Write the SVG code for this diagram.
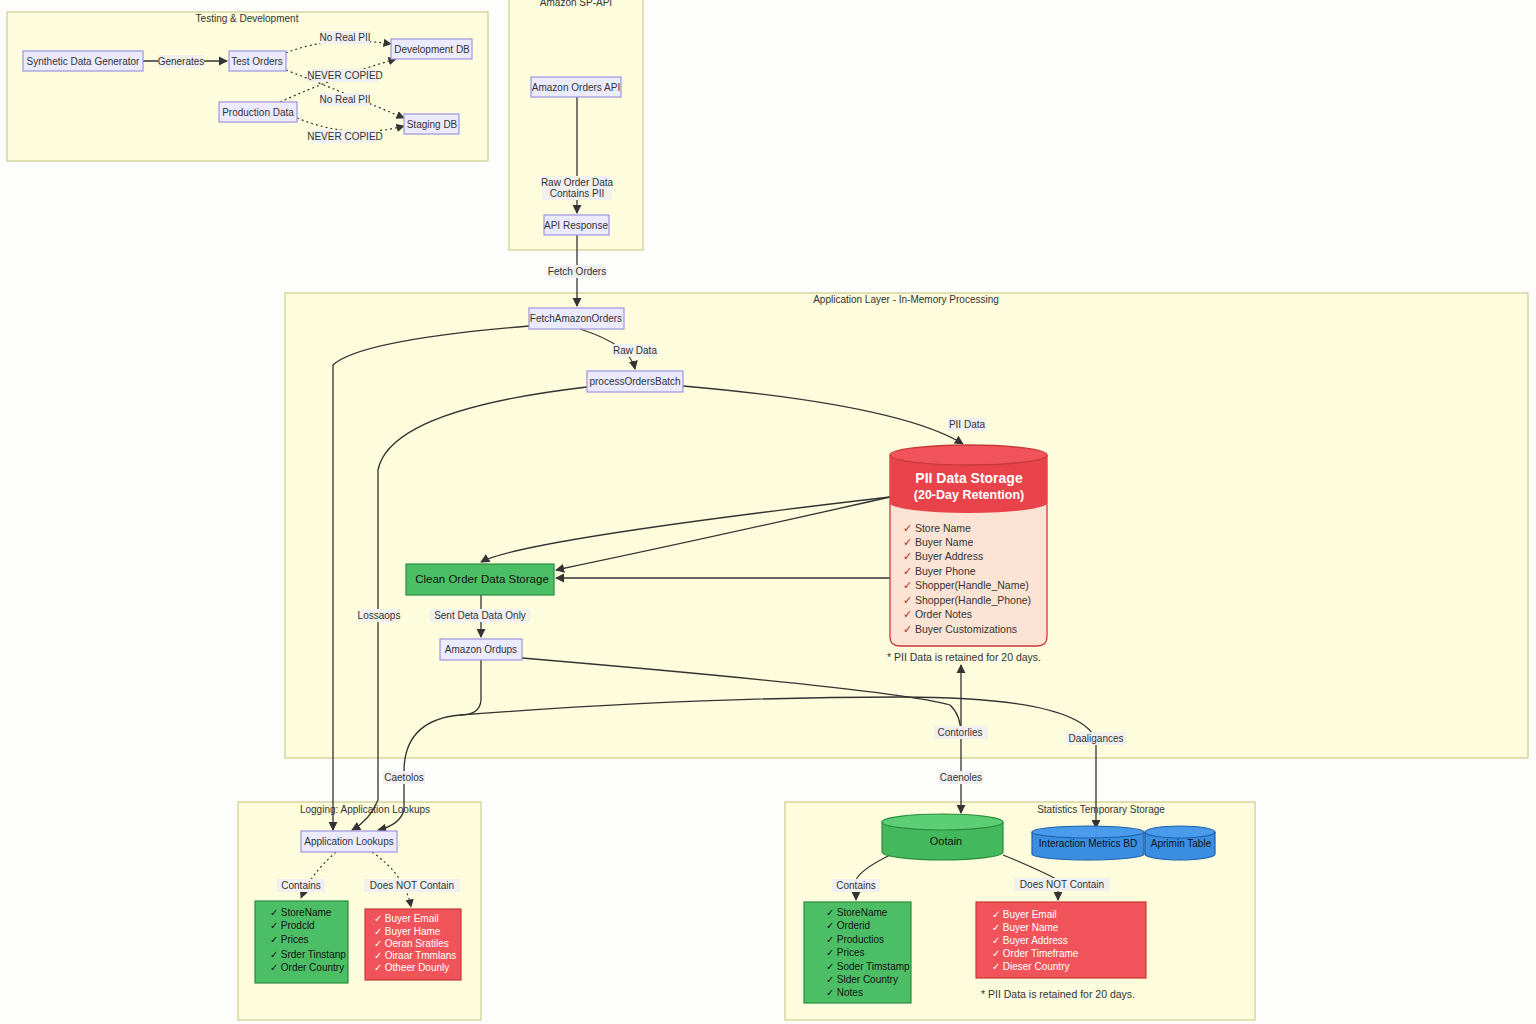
<svg xmlns="http://www.w3.org/2000/svg" width="1536" height="1024" viewBox="0 0 1536 1024" font-family="'Liberation Sans',Arial,sans-serif" font-size="10" fill="#333">
<defs>
<marker id="ar" viewBox="0 0 10 10" refX="9" refY="5" markerWidth="7" markerHeight="7" orient="auto-start-reverse"><path d="M0,0L10,5L0,10z" fill="#333"/></marker>
<style>
.cl{fill:#fdfcdc;stroke:#cfcb8e;stroke-width:1.2}
.nd{fill:#ecebfd;stroke:#9f94e0;stroke-width:1.2}
.e{fill:none;stroke:#333;stroke-width:1.3;marker-end:url(#ar)}
.d{fill:none;stroke:#333;stroke-width:1.2;stroke-dasharray:2,3;marker-end:url(#ar)}
.lb{fill:#f0f0ee}
.c{text-anchor:middle}
.w{fill:#fff}
.ck{fill:#b02a2a}
</style>
</defs>
<rect width="1536" height="1024" fill="#fdfdfc"/>
<g id="clusters">
<rect class="cl" x="7" y="12" width="481" height="149"/><text class="c" x="247" y="22">Testing &amp; Development</text>
<rect class="cl" x="509" y="-5" width="134" height="255"/><text class="c" x="576" y="6">Amazon SP-API</text>
<rect class="cl" x="285" y="293" width="1243" height="465"/><text class="c" x="906" y="303">Application Layer - In-Memory Processing</text>
<rect class="cl" x="238" y="802" width="243" height="218"/><text class="c" x="365" y="813">Logging: Application Lookups</text>
<rect class="cl" x="785" y="802" width="470" height="218"/><text class="c" x="1101" y="813">Statistics Temporary Storage</text>
</g>
<g id="connectors">
<path class="e" d="M143,61H227"/>
<path class="d" d="M286,53Q330,35 391,44"/>
<path class="d" d="M286,70Q350,95 404,118"/>
<path class="d" d="M280,102Q340,75 396,59"/>
<path class="d" d="M297,118Q350,140 404,126"/>
<path class="e" d="M577,97V213"/>
<path class="e" d="M577,235V306"/>
<path class="e" d="M580,329Q630,345 635,369"/>
<path class="e" d="M683,386Q900,405 963,444"/>
<path class="e" d="M529,326Q360,340 333,365V830"/>
<path class="e" d="M587,387Q390,410 378,470V800Q370,820 352,830"/>
<path class="e" d="M890,497Q520,540 481,562"/>
<path class="e" d="M890,497Q700,540 556,570"/>
<path class="e" d="M890,578H556"/>
<path class="e" d="M481,595V637"/>
<path class="e" d="M481,660V700Q480,715 460,715Q405,720 404,770V810Q400,825 378,830"/>
<path fill="none" stroke="#333" stroke-width="1.3" d="M460,715Q700,697 900,697Q1080,697 1096,740"/>
<path class="e" d="M1096,740V828"/>
<path class="e" d="M522,658Q900,690 950,705Q961,715 961,735V813"/>
<path class="e" d="M961,735V665"/>
<path class="d" d="M336,852Q310,875 301,898"/>
<path class="d" d="M372,852Q405,875 411,907"/>
<path fill="none" stroke="#333" stroke-width="1.2" d="M890,855Q860,870 856,880"/>
<path class="e" d="M856,890V900"/>
<path fill="none" stroke="#333" stroke-width="1.2" d="M1003,855Q1040,870 1058,880"/>
<path class="e" d="M1058,890V900"/>
</g>
<g id="labels">
<rect class="lb" x="158" y="55" width="46" height="13"/><text class="c" x="181" y="65">Generates</text>
<rect class="lb" x="320" y="31" width="50" height="13"/><text class="c" x="345" y="41">No Real PII</text>
<rect class="lb" x="312" y="69" width="66" height="13"/><text class="c" x="345" y="79">NEVER COPIED</text>
<rect class="lb" x="320" y="93" width="50" height="13"/><text class="c" x="345" y="103">No Real PII</text>
<rect class="lb" x="312" y="130" width="66" height="13"/><text class="c" x="345" y="140">NEVER COPIED</text>
<rect class="lb" x="542" y="176" width="70" height="24"/><text class="c" x="577" y="186">Raw Order Data</text><text class="c" x="577" y="197">Contains PII</text>
<rect class="lb" x="548" y="265" width="58" height="13"/><text class="c" x="577" y="275">Fetch Orders</text>
<rect class="lb" x="614" y="344" width="42" height="13"/><text class="c" x="635" y="354">Raw Data</text>
<rect class="lb" x="948" y="418" width="38" height="13"/><text class="c" x="967" y="428">PII Data</text>
<rect class="lb" x="358" y="609" width="42" height="13"/><text class="c" x="379" y="619">Lossaops</text>
<rect class="lb" x="430" y="609" width="100" height="13"/><text class="c" x="480" y="619">Sent Deta Data Only</text>
<rect class="lb" x="934" y="726" width="54" height="13"/><text class="c" x="960" y="736">Contorlies</text>
<rect class="lb" x="1066" y="732" width="60" height="13"/><text class="c" x="1096" y="742">Daaligances</text>
<rect class="lb" x="383" y="771" width="42" height="13"/><text class="c" x="404" y="781">Caetolos</text>
<rect class="lb" x="939" y="771" width="44" height="13"/><text class="c" x="961" y="781">Caenoles</text>
<rect class="lb" x="277" y="879" width="48" height="13"/><text class="c" x="301" y="889">Contains</text>
<rect class="lb" x="364" y="879" width="96" height="13"/><text class="c" x="412" y="889">Does NOT Contain</text>
<rect class="lb" x="832" y="879" width="48" height="13"/><text class="c" x="856" y="889">Contains</text>
<rect class="lb" x="1014" y="878" width="96" height="13"/><text class="c" x="1062" y="888">Does NOT Contain</text>
</g>
<g id="n-synth"><rect class="nd" x="23" y="51" width="120" height="20"/><text class="c" x="83" y="65">Synthetic Data Generator</text></g>
<g id="n-test"><rect class="nd" x="229" y="51" width="57" height="20"/><text class="c" x="257" y="65">Test Orders</text></g>
<g id="n-dev"><rect class="nd" x="391" y="39" width="81" height="20"/><text class="c" x="432" y="53">Development DB</text></g>
<g id="n-prod"><rect class="nd" x="219" y="102" width="78" height="20"/><text class="c" x="258" y="116">Production Data</text></g>
<g id="n-stag"><rect class="nd" x="404" y="114" width="55" height="20"/><text class="c" x="432" y="128">Staging DB</text></g>
<g id="n-aoapi"><rect class="nd" x="531" y="77" width="90" height="20"/><text class="c" x="576" y="91">Amazon Orders API</text></g>
<g id="n-resp"><rect class="nd" x="544" y="215" width="65" height="20"/><text class="c" x="576" y="229">API Response</text></g>
<g id="n-fetch"><rect class="nd" x="529" y="308" width="95" height="21"/><text class="c" x="576" y="322">FetchAmazonOrders</text></g>
<g id="n-proc"><rect class="nd" x="587" y="371" width="96" height="21"/><text class="c" x="635" y="385">processOrdersBatch</text></g>
<g id="n-pii">
<path d="M890,455V637Q890,646 900,646H1037Q1047,646 1047,637V455" fill="#fde3d3" stroke="#c83a3a" stroke-width="1.3"/>
<path d="M890,455V503A78.5,10 0 0 0 1047,503V455Z" fill="#e8434a"/>
<ellipse cx="968.5" cy="455" rx="78.5" ry="10" fill="#f0545a" stroke="#c83a3a" stroke-width="1.3"/>
<text class="c w" x="969" y="483" font-size="14" font-weight="bold">PII Data Storage</text>
<text class="c w" x="969" y="499" font-size="12.5" font-weight="bold">(20-Day Retention)</text>
<g font-size="10.5">
<text x="903" y="532"><tspan class="ck">✓</tspan> Store Name</text><text x="903" y="546"><tspan class="ck">✓</tspan> Buyer Name</text><text x="903" y="560"><tspan class="ck">✓</tspan> Buyer Address</text><text x="903" y="575"><tspan class="ck">✓</tspan> Buyer Phone</text><text x="903" y="589"><tspan class="ck">✓</tspan> Shopper(Handle_Name)</text><text x="903" y="604"><tspan class="ck">✓</tspan> Shopper(Handle_Phone)</text><text x="903" y="618"><tspan class="ck">✓</tspan> Order Notes</text><text x="903" y="633"><tspan class="ck">✓</tspan> Buyer Customizations</text>
</g>
<text class="c" x="964" y="661" font-size="10.5">* PII Data is retained for 20 days.</text>
</g>
<g id="n-clean"><rect x="406" y="564" width="148" height="31" fill="#4cbf66" stroke="#2a8c3e" stroke-width="1.2"/><text class="c" x="482" y="583" font-size="11.5" fill="#111">Clean Order Data Storage</text></g>
<g id="n-ordups"><rect class="nd" x="440" y="639" width="82" height="21"/><text class="c" x="481" y="653">Amazon Ordups</text></g>
<g id="n-lookups"><rect class="nd" x="301" y="831" width="96" height="21"/><text class="c" x="349" y="845">Application Lookups</text></g>
<g id="n-lg-contains" fill="#111"><rect x="255" y="901" width="93" height="82" fill="#4cbf66" stroke="#2a8c3e" stroke-width="1.2"/>
<text x="270" y="916">✓ StoreName</text><text x="270" y="929">✓ Prodcld</text><text x="270" y="943">✓ Prices</text><text x="270" y="958">✓ Srder Tinstanp</text><text x="270" y="971">✓ Order Country</text></g>
<g id="n-lg-not"><rect x="365" y="909" width="96" height="71" fill="#f0545a" stroke="#c83a3a" stroke-width="1.2"/>
<text class="w" x="374" y="922">✓ Buyer Email</text><text class="w" x="374" y="935">✓ Buyer Hame</text><text class="w" x="374" y="947">✓ Oeran Sratiles</text><text class="w" x="374" y="959">✓ Oiraar Tmmlans</text><text class="w" x="374" y="971">✓ Otheer Dounly</text></g>
<g id="n-ootain">
<path d="M882,822V852A60.5,8 0 0 0 1003,852V822" fill="#44b85c" stroke="#2a8c3e" stroke-width="1.2"/>
<ellipse cx="942.5" cy="822" rx="60.5" ry="8" fill="#5ccf74" stroke="#2a8c3e" stroke-width="1.2"/>
<text class="c" x="946" y="845" font-size="11" fill="#111">Ootain</text></g>
<g id="n-imdb">
<path d="M1032,832V854A56,6 0 0 0 1144,854V832" fill="#3b8fe3" stroke="#1d5fa8" stroke-width="1.2"/>
<ellipse cx="1088" cy="832" rx="56" ry="6" fill="#4a9bec" stroke="#1d5fa8" stroke-width="1.2"/>
<text class="c" x="1088" y="847" fill="#111">Interaction Metrics BD</text></g>
<g id="n-apt">
<path d="M1145,832V854A35,6 0 0 0 1215,854V832" fill="#3b8fe3" stroke="#1d5fa8" stroke-width="1.2"/>
<ellipse cx="1180" cy="832" rx="35" ry="6" fill="#4a9bec" stroke="#1d5fa8" stroke-width="1.2"/>
<text class="c" x="1181" y="847" fill="#111">Aprimin Table</text></g>
<g id="n-st-contains" fill="#111"><rect x="804" y="902" width="107" height="101" fill="#4cbf66" stroke="#2a8c3e" stroke-width="1.2"/>
<text x="826" y="916">✓ StoreName</text><text x="826" y="929">✓ Orderid</text><text x="826" y="943">✓ Productios</text><text x="826" y="956">✓ Prices</text><text x="826" y="970">✓ Soder Timstamp</text><text x="826" y="983">✓ Slder Country</text><text x="826" y="996">✓ Notes</text></g>
<g id="n-st-not"><rect x="976" y="902" width="170" height="76" fill="#f0545a" stroke="#c83a3a" stroke-width="1.2"/>
<text class="w" x="992" y="918">✓ Buyer Email</text><text class="w" x="992" y="931">✓ Buyer Name</text><text class="w" x="992" y="944">✓ Buyer Address</text><text class="w" x="992" y="957">✓ Order Timeframe</text><text class="w" x="992" y="970">✓ Dieser Country</text></g>
<g id="note2"><text class="c" x="1058" y="998" font-size="10.5">* PII Data is retained for 20 days.</text></g>
</svg>
